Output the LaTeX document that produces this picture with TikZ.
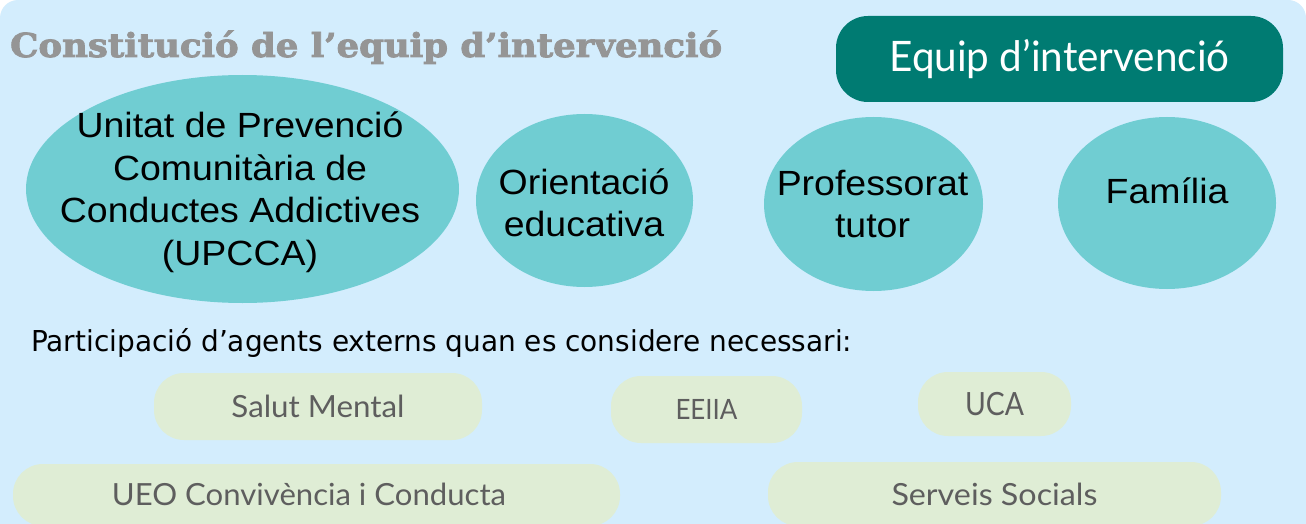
\documentclass[tikz,border=0pt]{standalone}
\usepackage{fontspec}
\usepackage{graphicx}
\usetikzlibrary{shapes.geometric}
\setmainfont{Liberation Sans}
\newfontfamily\ellfont{Liberation Sans}[FakeStretch=1.07]
\newfontfamily\titlefont{DejaVu Serif}[FakeBold=2.5]
\newfontfamily\partfont{DejaVu Sans}
\newfontfamily\pillfont{Lato}
\definecolor{bgblue}{HTML}{D3EDFD}
\definecolor{ellcol}{HTML}{70CDD2}
\definecolor{darkteal}{HTML}{007B72}
\definecolor{pillcol}{HTML}{DFEDD5}
\definecolor{titlegray}{HTML}{959595}
\definecolor{pilltext}{HTML}{5E5E5E}
\newcommand\fitw[2]{\resizebox{#1}{\height}{#2}}
\begin{document}
\begin{tikzpicture}[x=1pt,y=-1pt,
  ell/.style={ellipse, fill=ellcol, inner sep=0pt},
  elltext/.style={inner sep=0pt, anchor=base, font=\ellfont\fontsize{35}{42.5}\selectfont},
  pill/.style={rectangle, rounded corners=30pt, fill=pillcol, inner sep=0pt, text=pilltext},
  pilltxt/.style={inner sep=0pt, text=pilltext}
  ]
\useasboundingbox (0,0) rectangle (1306,524);
\clip (0,0) rectangle (1306,524);
\fill[white] (0,0) rectangle (1306,524);
\fill[bgblue, rounded corners=18pt] (0,0) rectangle (1306,600);

% title
\node[anchor=base west, inner sep=0pt, text=titlegray,
      font=\titlefont\bfseries\fontsize{33}{38}\selectfont] (title) at (10,57)
  {\fitw{712pt}{Constitució de l’equip d’intervenció}};

% team box
\node[fill=darkteal, rounded corners=32pt, minimum width=447pt, minimum height=86pt,
      inner sep=0pt, text=white, font=\pillfont\fontsize{42}{48}\selectfont,
      text height=30pt, text depth=4pt] (equip) at (1059.5,59)
  {\fitw{340pt}{Equip d’intervenció}};

% ellipses
\node[ell, minimum width=433pt, minimum height=228pt] (upcca) at (242.5,189) {};
\node[ell, minimum width=217pt, minimum height=173pt] (orient) at (584.5,200.5) {};
\node[ell, minimum width=219pt, minimum height=174pt] (prof) at (873.5,204) {};
\node[ell, minimum width=218pt, minimum height=172pt] (fam) at (1167,203) {};

\node[elltext] (upccatext) at (240,138)
  {\begin{tabular}[t]{@{}c@{}}Unitat de Prevenció\\Comunitària de\\Conductes Addictives\\(UPCCA)\end{tabular}};
\node[elltext] (orienttext) at (584,194)
  {\begin{tabular}[t]{@{}c@{}}Orientació\\educativa\end{tabular}};
\node[elltext] (proftext) at (872.5,195)
  {\begin{tabular}[t]{@{}c@{}}Professorat\\tutor\end{tabular}};
\node[elltext] (famtext) at (1167,203) {Família};

% participation line
\node[anchor=base west, inner sep=0pt, font=\partfont\fontsize{28.8}{34}\selectfont] (part) at (31,351)
  {\fitw{821pt}{Participació d’agents externs quan es considere necessari:}};

% external agents
\node[pill, minimum width=328pt, minimum height=67pt,
      font=\pillfont\fontsize{30.5}{36}\selectfont, text height=22pt, text depth=0pt]
  (salut) at (318,406.5) {\fitw{173pt}{Salut Mental}};
\node[pill, minimum width=191pt, minimum height=67pt,
      font=\pillfont\fontsize{28}{34}\selectfont, text height=20pt, text depth=0pt]
  (eeiia) at (706.5,409.5) {\fitw{62pt}{EEIIA}};
\node[pill, minimum width=153pt, minimum height=64pt,
      font=\pillfont\fontsize{32}{38}\selectfont, text height=23pt, text depth=0pt]
  (uca) at (994.5,404) {\fitw{59pt}{UCA}};
\node[pill, minimum width=607pt, minimum height=62pt] (ueo) at (316.5,495) {};
\node[pilltxt, font=\pillfont\fontsize{30.5}{36}\selectfont, text height=22pt, text depth=0pt]
  (ueotext) at (309,494) {\fitw{394pt}{UEO Convivència i Conducta}};
\node[pill, minimum width=453pt, minimum height=64pt,
      font=\pillfont\fontsize{30.5}{36}\selectfont, text height=22pt, text depth=0pt]
  (serveis) at (994.5,494) {\fitw{206pt}{Serveis Socials}};
\end{tikzpicture}
\end{document}
